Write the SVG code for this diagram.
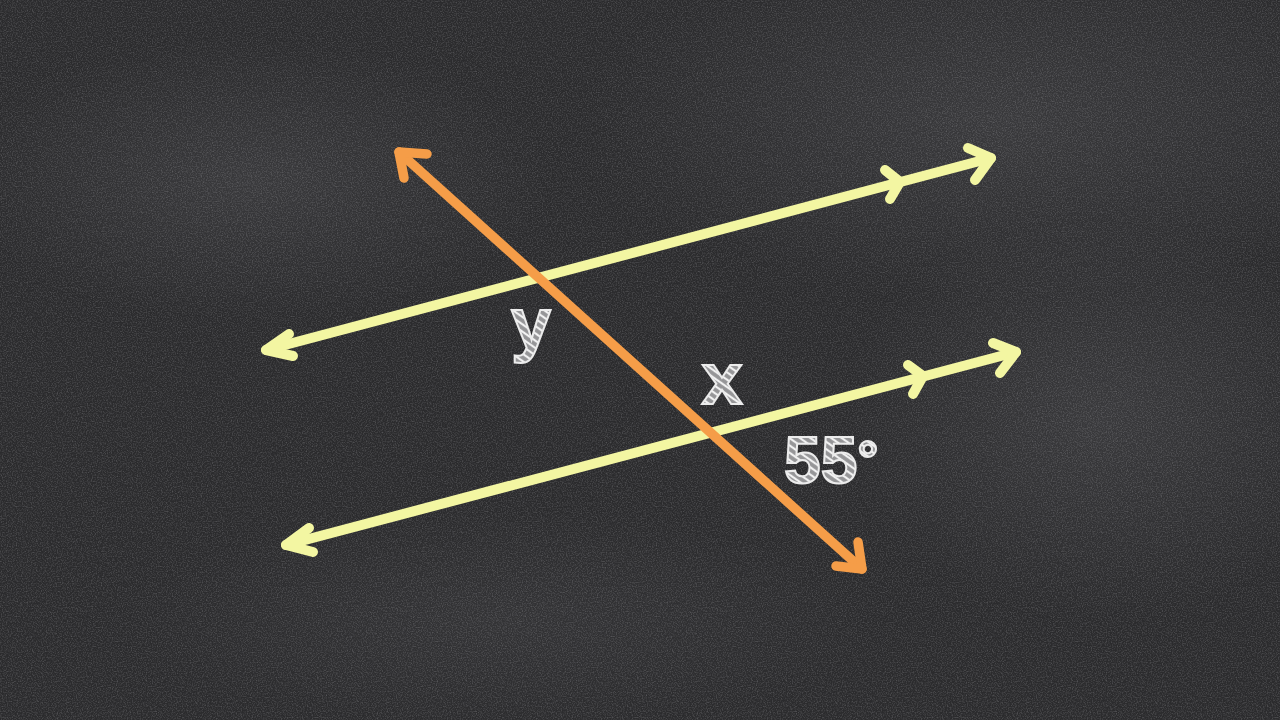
<svg xmlns="http://www.w3.org/2000/svg" width="1280" height="720" viewBox="0 0 1280 720">
  <defs>
    <style>
      .yl { stroke: #f3f6a2; stroke-width: 10; stroke-linecap: round; stroke-linejoin: round; fill: none; }
      .or { stroke: #f59d48; stroke-width: 9.5; stroke-linecap: round; stroke-linejoin: round; fill: none; }
      .chalk { font-family: "Liberation Sans", Arial, sans-serif; font-weight: bold; fill: url(#hatch); stroke: #ececec; stroke-width: 2; }
    </style>
    <pattern id="hatch" width="6" height="6" patternUnits="userSpaceOnUse" patternTransform="rotate(35)">
      <rect width="6" height="6" fill="#959597"/>
      <line x1="0" y1="2" x2="6" y2="2" stroke="#f2f2f2" stroke-width="2.2"/>
    </pattern>
    <radialGradient id="smudge1" cx="0.5" cy="0.5" r="0.5">
      <stop offset="0" stop-color="#5c5c60" stop-opacity="0.3"/>
      <stop offset="1" stop-color="#5c5c60" stop-opacity="0"/>
    </radialGradient>
    <filter id="noise" x="0" y="0" width="100%" height="100%">
      <feTurbulence type="fractalNoise" baseFrequency="0.8" numOctaves="2" seed="3" result="n"/>
      <feColorMatrix type="matrix" values="0 0 0 0 0.7  0 0 0 0 0.7  0 0 0 0 0.73  0 0 0 1.2 -0.5"/>
    </filter>
  </defs>

  <g id="background">
    <rect width="1280" height="720" fill="#2b2b2d"/>
    <ellipse cx="1000" cy="120" rx="420" ry="180" fill="url(#smudge1)"/>
    <ellipse cx="1100" cy="420" rx="260" ry="200" fill="url(#smudge1)"/>
    <ellipse cx="250" cy="180" rx="300" ry="140" fill="url(#smudge1)"/>
    <ellipse cx="500" cy="620" rx="380" ry="110" fill="url(#smudge1)" opacity="0.6"/>
    <rect width="1280" height="720" filter="url(#noise)" opacity="0.4"/>
  </g>

  <g id="connectors">
    <g id="line-top">
      <line class="yl" x1="266" y1="350" x2="991" y2="158"/>
      <polyline class="yl" points="289,334 266,350 293,356"/>
      <polyline class="yl" points="968,148 991,158 975,180"/>
      <polyline class="yl" points="885,170 900,182 890,199"/>
    </g>
    <g id="line-bottom">
      <line class="yl" x1="286" y1="545" x2="1016" y2="352"/>
      <polyline class="yl" points="309,528 286,545 313,552"/>
      <polyline class="yl" points="993,343 1016,352 1000,373"/>
      <polyline class="yl" points="908,365 923,376 913,394"/>
    </g>
    <g id="transversal">
      <line class="or" x1="399" y1="152" x2="862" y2="569"/>
      <polyline class="or" points="427,154 399,152 404,178"/>
      <polyline class="or" points="836,566 862,569 858,542"/>
    </g>
  </g>

  <g id="label-y">
    <text class="chalk" x="531" y="348" font-size="72" text-anchor="middle">y</text>
  </g>
  <g id="label-x">
    <text class="chalk" x="722" y="404" font-size="74" text-anchor="middle">x</text>
  </g>
  <g id="label-55">
    <text class="chalk" x="784" y="483" font-size="66">55<tspan font-size="52" dy="-6">°</tspan></text>
  </g>
</svg>
